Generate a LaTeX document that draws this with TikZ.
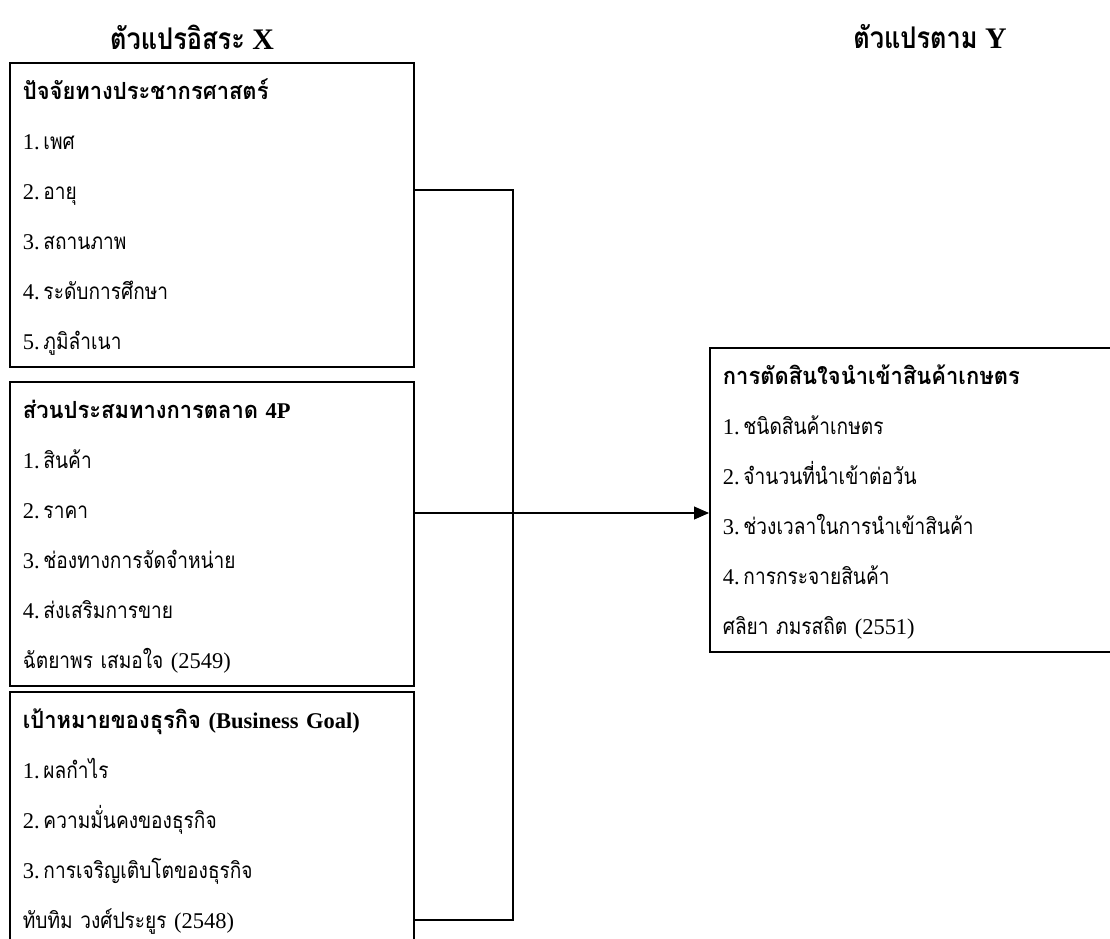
\documentclass[tikz,border=0pt]{standalone}
\usepackage{fontspec}
\setmainfont{Liberation Serif}
\newfontfamily\thaifont[Script=Thai,Scale=1.0,FakeStretch=0.85]{Loma}
\newfontfamily\thaihdfont[Script=Thai,Scale=1.05,FakeStretch=0.93]{Loma}
\usetikzlibrary{arrows.meta}
\newcommand{\thai}[1]{{\thaifont #1}}
\newcommand{\thaihd}[1]{{\thaihdfont #1}}

\tikzset{
  varbox/.style={draw, line width=1pt, anchor=north west, align=left,
    text width=7.56cm, inner xsep=0.26cm, inner ysep=0.04cm,
    font=\fontsize{12.8}{28.45}\selectfont,
    execute at begin node=\strut, execute at end node=\strut},
  vartitle/.style={font=\fontsize{17}{20}\selectfont\bfseries},
  link/.style={line width=0.6pt}
}

\begin{document}
\begin{tikzpicture}[x=0.02cm,y=-0.02cm]
  \clip (0,0) rectangle (1110,938);

  \node[vartitle] (tx) at (192,37) {\thai{ตัวแปรอิสระ} X};
  \node[vartitle] (ty) at (930,37) {\thai{ตัวแปรตาม} Y};

  \node[varbox] (demo) at (9,62) {%
    \textbf{\thaihd{ปัจจัยทางประชากรศาสตร์}}\\
    1.\,\thai{เพศ}\\
    2.\,\thai{อายุ}\\
    3.\,\thai{สถานภาพ}\\
    4.\,\thai{ระดับการศึกษา}\\
    5.\,\thai{ภูมิลำเนา}};
  \node[varbox] (mix) at (9,381) {%
    \textbf{\thaihd{ส่วนประสมทางการตลาด} 4P}\\
    1.\,\thai{สินค้า}\\
    2.\,\thai{ราคา}\\
    3.\,\thai{ช่องทางการจัดจำหน่าย}\\
    4.\,\thai{ส่งเสริมการขาย}\\
    \thai{ฉัตยาพร เสมอใจ} (2549)};
  \node[varbox] (goal) at (9,691) {%
    \textbf{\thaihd{เป้าหมายของธุรกิจ} (Business Goal)}\\
    1.\,\thai{ผลกำไร}\\
    2.\,\thai{ความมั่นคงของธุรกิจ}\\
    3.\,\thai{การเจริญเติบโตของธุรกิจ}\\
    \thai{ทับทิม วงศ์ประยูร} (2548)\\
    ~};
  \node[varbox, text width=8.4cm] (dec) at (709,347) {%
    \textbf{\thaihd{การตัดสินใจนำเข้าสินค้าเกษตร}}\\
    1.\,\thai{ชนิดสินค้าเกษตร}\\
    2.\,\thai{จำนวนที่นำเข้าต่อวัน}\\
    3.\,\thai{ช่วงเวลาในการนำเข้าสินค้า}\\
    4.\,\thai{การกระจายสินค้า}\\
    \thai{ศลิยา ภมรสถิต} (2551)};

  % joins of the three inputs
  \coordinate (jA) at (513,190);
  \coordinate (jB) at (513,513);
  \coordinate (jC) at (513,920);

  \draw[link] (demo.east |- jA) -- (jA) -- (jC) -- (goal.east |- jC);
  \draw[link, -{Triangle[length=0.3cm, width=0.26cm]}] (mix.east |- jB) -- (dec.west |- jB);
\end{tikzpicture}
\end{document}
